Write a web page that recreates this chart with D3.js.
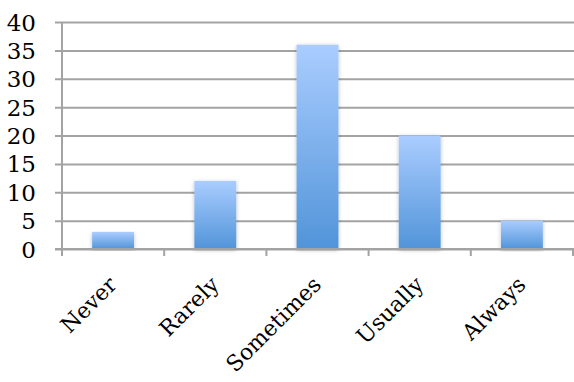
<!DOCTYPE html>
<html>
<head>
<meta charset="utf-8">
<script src="https://cdn.jsdelivr.net/npm/d3@7"></script>
<style>
  html, body { margin: 0; padding: 0; background: #fff; }
  svg { display: block; }
</style>
</head>
<body>
<svg id="chart" width="574" height="382"></svg>
<script>
// Survey response counts by frequency
const categories = ["Never", "Rarely", "Sometimes", "Usually", "Always"];
const counts = [3, 12, 36, 20, 5];
const yTicks = [0, 5, 10, 15, 20, 25, 30, 35, 40];

const svg = d3.select("#chart");
const margin = { top: 22, right: 0, bottom: 133, left: 62 };
const width = 574 - margin.left - margin.right;
const height = 382 - margin.top - margin.bottom;

const x = d3.scaleBand().domain(categories).range([0, 511]).paddingInner(0.59).paddingOuter(0.295);
const y = d3.scaleLinear().domain([0, 40]).range([height, 0]);

const defs = svg.append("defs");
const grad = defs.append("linearGradient")
  .attr("id", "barFill").attr("x1", 0).attr("y1", 0).attr("x2", 0).attr("y2", 1);
grad.append("stop").attr("offset", "0%").attr("stop-color", "#aacdff");
grad.append("stop").attr("offset", "100%").attr("stop-color", "#5194d9");

const shadow = defs.append("filter").attr("id", "barShadow")
  .attr("x", "-30%").attr("y", "-10%").attr("width", "160%").attr("height", "120%");
shadow.append("feGaussianBlur").attr("in", "SourceAlpha").attr("stdDeviation", 2.2).attr("result", "b");
shadow.append("feOffset").attr("in", "b").attr("dx", 0).attr("dy", 1).attr("result", "o");
shadow.append("feComponentTransfer").attr("in", "o").attr("result", "s")
  .append("feFuncA").attr("type", "linear").attr("slope", 0.25);
const merge = shadow.append("feMerge");
merge.append("feMergeNode").attr("in", "s");
merge.append("feMergeNode").attr("in", "SourceGraphic");

const g = svg.append("g").attr("transform", `translate(${margin.left},${margin.top})`);

// Horizontal gridlines with left tick marks
const yAxis = g.append("g")
  .call(d3.axisLeft(y).tickValues(yTicks).tickSize(-width).tickPadding(0).tickFormat(""));
yAxis.select(".domain").remove();
yAxis.selectAll(".tick line")
  .attr("x1", -7)
  .attr("stroke", "#a3a3a3").attr("stroke-width", 2);

// Y tick labels
g.append("g").selectAll("text").data(yTicks).join("text")
  .attr("x", -26).attr("y", d => y(d))
  .attr("dy", "0.37em")
  .attr("text-anchor", "end")
  .attr("font-family", "'DejaVu Serif', serif")
  .attr("font-size", 23)
  .attr("fill", "#000")
  .text(d => d);

// Vertical axis line
g.append("line")
  .attr("x1", 0).attr("x2", 0).attr("y1", y(40)).attr("y2", height + 7)
  .attr("stroke", "#a3a3a3").attr("stroke-width", 2);

// Bars
g.append("g").selectAll("rect").data(categories).join("rect")
  .attr("x", d => x(d))
  .attr("width", x.bandwidth())
  .attr("y", (d, i) => y(counts[i]))
  .attr("height", (d, i) => height - y(counts[i]))
  .attr("fill", "url(#barFill)")
  .attr("filter", "url(#barShadow)");

// Baseline and category tick marks
const step = x.step();
g.append("line")
  .attr("x1", -7).attr("x2", width).attr("y1", height).attr("y2", height)
  .attr("stroke", "#a3a3a3").attr("stroke-width", 2);
g.append("g").selectAll("line").data(d3.range(categories.length + 1)).join("line")
  .attr("x1", i => i * step).attr("x2", i => i * step)
  .attr("y1", height).attr("y2", height + 7)
  .attr("stroke", "#a3a3a3").attr("stroke-width", 2);

// Rotated category labels
g.append("g").selectAll("text").data(categories).join("text")
  .attr("transform", d => `translate(${x(d) + x.bandwidth() / 2 + 5},${height + 37}) rotate(-45)`)
  .attr("text-anchor", "end")
  .attr("font-family", "'DejaVu Serif', serif")
  .attr("font-size", 22)
  .attr("fill", "#000")
  .text(d => d);
</script>
</body>
</html>
